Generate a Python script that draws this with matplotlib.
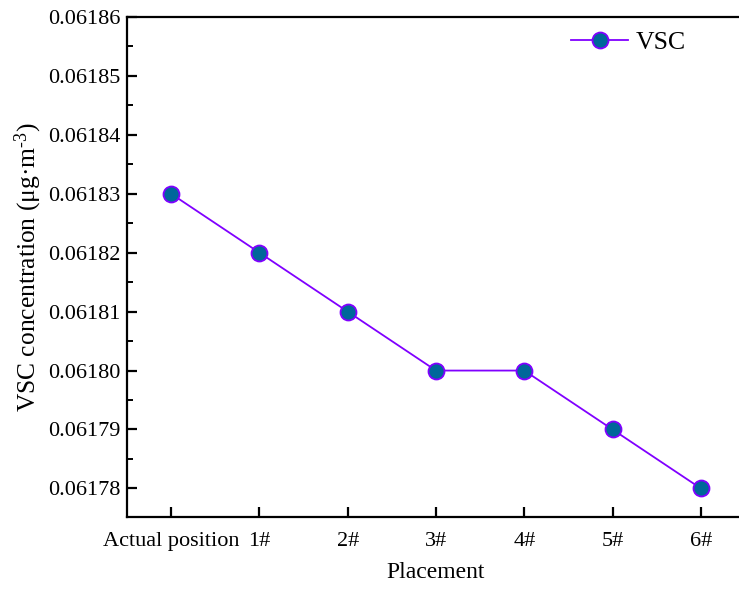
import matplotlib
matplotlib.use("Agg")
import matplotlib.pyplot as plt
from matplotlib.ticker import MultipleLocator, FormatStrFormatter

plt.rcParams['font.family'] = ['Liberation Serif', 'DejaVu Serif']
plt.rcParams['mathtext.fontset'] = 'custom'
plt.rcParams['mathtext.rm'] = 'Liberation Serif'
plt.rcParams['mathtext.it'] = 'Liberation Serif:italic'

categories = ["Actual position", "1#", "2#", "3#", "4#", "5#", "6#"]
vsc = [0.06183, 0.06182, 0.06181, 0.06180, 0.06180, 0.06179, 0.06178]

fig = plt.figure(figsize=(7.39, 5.90), dpi=100)
W, H = 739, 590
left, right, top, bottom = 127, 745, 17, 516.7
ax = fig.add_axes([left / W, 1 - bottom / H, (right - left) / W, (bottom - top) / H])

x = list(range(len(categories)))
ax.plot(x, vsc, color='#8000ff', lw=1.3, marker='o', markersize=11.5,
        markerfacecolor='#00679a', markeredgecolor='#8000ff', markeredgewidth=1.3,
        label='VSC')

ax.set_xlim(-0.5, 6.5)
ax.set_ylim(0.0617752, 0.06186)
ax.set_xticks(x)
ax.set_xticklabels(categories)
ax.yaxis.set_major_locator(MultipleLocator(0.00001))
ax.yaxis.set_minor_locator(MultipleLocator(0.000005))
ax.yaxis.set_major_formatter(FormatStrFormatter('%.5f'))

ax.spines['right'].set_visible(False)
for s in ax.spines.values():
    s.set_linewidth(1.6)
ax.tick_params(axis='both', which='major', direction='in', length=7, width=1.6,
               labelsize=16)
ax.tick_params(axis='x', which='major', pad=11)
ax.tick_params(axis='y', which='major', pad=4.5)
ax.tick_params(axis='y', which='minor', direction='in', length=4, width=1.4)
ax.tick_params(axis='x', which='minor', bottom=False)
ax.tick_params(right=False, which='both')

ax.set_xlabel('Placement', fontsize=17, labelpad=8)
ax.set_ylabel('VSC concentration (μg·m$^{\u20103}$)', fontsize=18.4, labelpad=3)

ax.legend(loc='center left', frameon=False, fontsize=18.5,
          bbox_to_anchor=(571 / W, 1 - 43 / H), bbox_transform=fig.transFigure,
          borderpad=0, borderaxespad=0,
          handlelength=2.22, handletextpad=0.31)

fig.savefig('out.png', dpi=100)
